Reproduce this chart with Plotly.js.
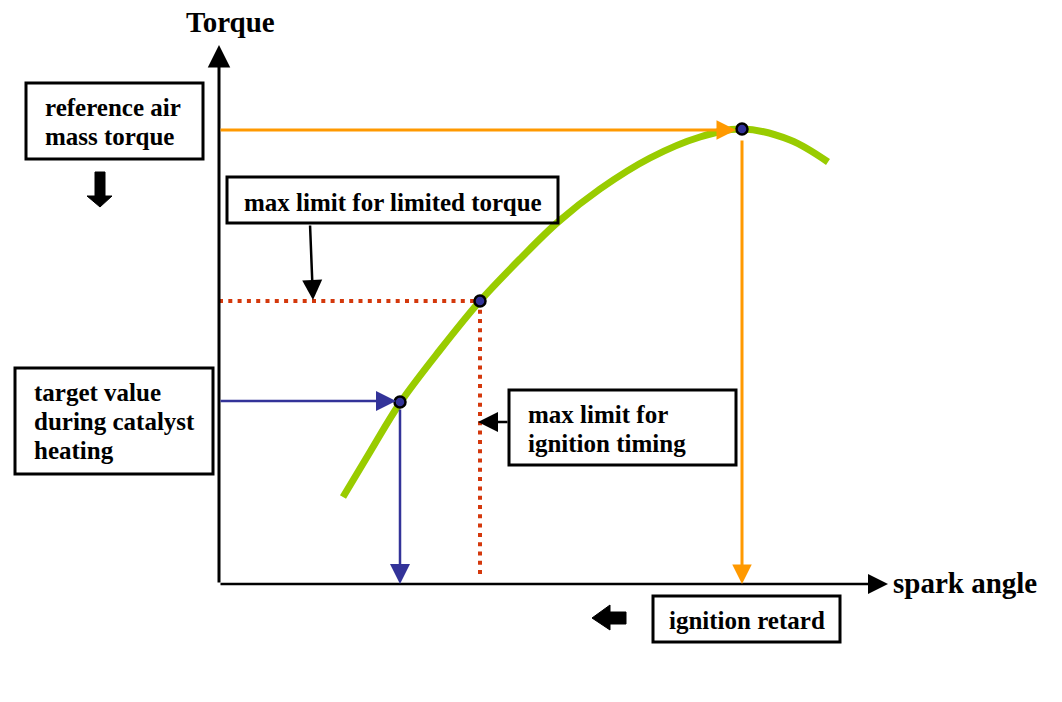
<!DOCTYPE html>
<html>
<head>
<meta charset="utf-8">
<script src="https://cdn.plot.ly/plotly-3.0.1.min.js"></script>
<style>html,body{margin:0;padding:0;background:#fff;}</style>
</head>
<body>
<div id="chart" style="width:1062px;height:702px;"></div>
<script>
// Torque vs spark angle curve (diagram units: x = spark angle, y = torque)
const curveX = [124, 151, 181, 221, 261, 301, 339, 381, 431, 481, 523, 571, 609];
const curveY = [87, 132, 181, 234, 283, 325, 362, 395, 426, 447, 455, 444, 422];
// Operating points: catalyst heating target, limited torque max, reference (optimum)
const pointNames = ['target value during catalyst heating', 'max limit for limited torque', 'reference air mass torque'];
const pointX = [181, 261, 523];
const pointY = [182, 283, 455];
// Labels
const axisTitleY = 'Torque';
const axisTitleX = 'spark angle';
const refLines = ['reference air', 'mass torque'];
const limTorqueLines = ['max limit for limited torque'];
const targetLines = ['target value', 'during catalyst', 'heating'];
const ignTimingLines = ['max limit for', 'ignition timing'];
const retardLines = ['ignition retard'];

const FAMILY = 'Liberation Serif';
function font(size) { return {family: FAMILY, size: size, color: '#000', weight: 'bold'}; }
const ORANGE = '#FF9900', BLUE = '#333399', RED = '#D4380C', GREEN = '#99CC00';

const [tX, lX, rX] = pointX;
const [tY, lY, rY] = pointY;

const traces = [
  {x: curveX, y: curveY, mode: 'lines', line: {color: GREEN, width: 7, shape: 'spline', smoothing: 1}, hoverinfo: 'skip'},
  {x: [0, lX, lX], y: [lY, lY, 6], mode: 'lines', line: {color: RED, width: 4, dash: '4px,5.3px'}, hoverinfo: 'skip'},
  {x: pointX, y: pointY, text: pointNames, mode: 'markers', marker: {size: 11, color: BLUE, line: {color: '#000', width: 2.5}}, hoverinfo: 'text'}
];

function arrow(x0, y0, x1, y1, color, w, size) {
  return {x: x1, y: y1, ax: x0, ay: y0, xref: 'x', yref: 'y', axref: 'x', ayref: 'y', text: '', showarrow: true,
          arrowhead: 2, arrowsize: size || 1, arrowwidth: w, arrowcolor: color, standoff: 0, startstandoff: 0};
}
function label(text, x, y, xanchor, size) {
  return {x: x, y: y, xref: 'x', yref: 'y', text: text, showarrow: false, xanchor: xanchor || 'left', yanchor: 'middle', align: 'left', font: font(size || 25)};
}
// stacked lines with a fixed line pitch of 29 units
function block(lines, x, yTop, xanchor) {
  return lines.map((t, i) => label(t, x, yTop - 29 * i, xanchor));
}
function box(x0, y0, x1, y1) {
  return {type: 'rect', xref: 'x', yref: 'y', x0: x0, y0: y0, x1: x1, y1: y1, line: {color: '#000', width: 3}, fillcolor: 'rgba(0,0,0,0)'};
}

const annotations = [
  // axes
  arrow(0, 0, 0, 539, '#000', 3, 1.5),
  arrow(0, 0, 669, 0, '#000', 2.5, 1.6),
  // orange guides
  arrow(0, rY - 1, rX - 6, rY - 1, ORANGE, 3, 1.3),
  arrow(rX, rY - 10, rX, 0, ORANGE, 3, 1.3),
  // blue guides
  arrow(0, tY + 1, tX - 4, tY + 1, BLUE, 2.5, 1.6),
  arrow(tX, tY - 6, tX, 0, BLUE, 2.5, 1.6),
  // black pointer arrows
  arrow(91, 360, 94, lY + 1, '#000', 2.5, 1.6),
  arrow(290, 162, 259, 162, '#000', 2.5, 1.6),
  // axis titles
  label(axisTitleY, 11, 562, 'center', 29),
  label(axisTitleX, 672, 1, 'left', 29)
].concat(
  block(refLines, -176, 477),
  block(limTorqueLines, 174, 382, 'center'),
  block(targetLines, -187, 192),
  block(ignTimingLines, 307, 170),
  block(retardLines, 528, -36, 'center')
);

const shapes = [
  box(-193, 501, -16, 425),
  box(8, 407, 339, 361),
  box(-204, 216, -6, 110),
  box(290, 194, 517, 119),
  box(434, -12, 621, -58),
  // block arrow down
  {type: 'path', xref: 'x', yref: 'y', path: 'M -124,412 L -114,412 L -114,388 L -107,388 L -119,377 L -132,388 L -124,388 Z', fillcolor: '#000', line: {color: '#000', width: 1}},
  // block arrow left
  {type: 'path', xref: 'x', yref: 'y', path: 'M 407,-28 L 391,-28 L 391,-21 L 373,-34 L 391,-46 L 391,-40 L 407,-40 Z', fillcolor: '#000', line: {color: '#000', width: 1}}
];

const layout = {
  width: 1062, height: 702,
  margin: {l: 0, r: 0, t: 0, b: 0},
  paper_bgcolor: '#fff', plot_bgcolor: '#fff',
  showlegend: false,
  font: {family: FAMILY},
  xaxis: {range: [-219, 843], visible: false, fixedrange: true},
  yaxis: {range: [-118, 584], visible: false, fixedrange: true},
  annotations: annotations,
  shapes: shapes
};

Plotly.newPlot('chart', traces, layout, {displayModeBar: false, staticPlot: true});
</script>
</body>
</html>
